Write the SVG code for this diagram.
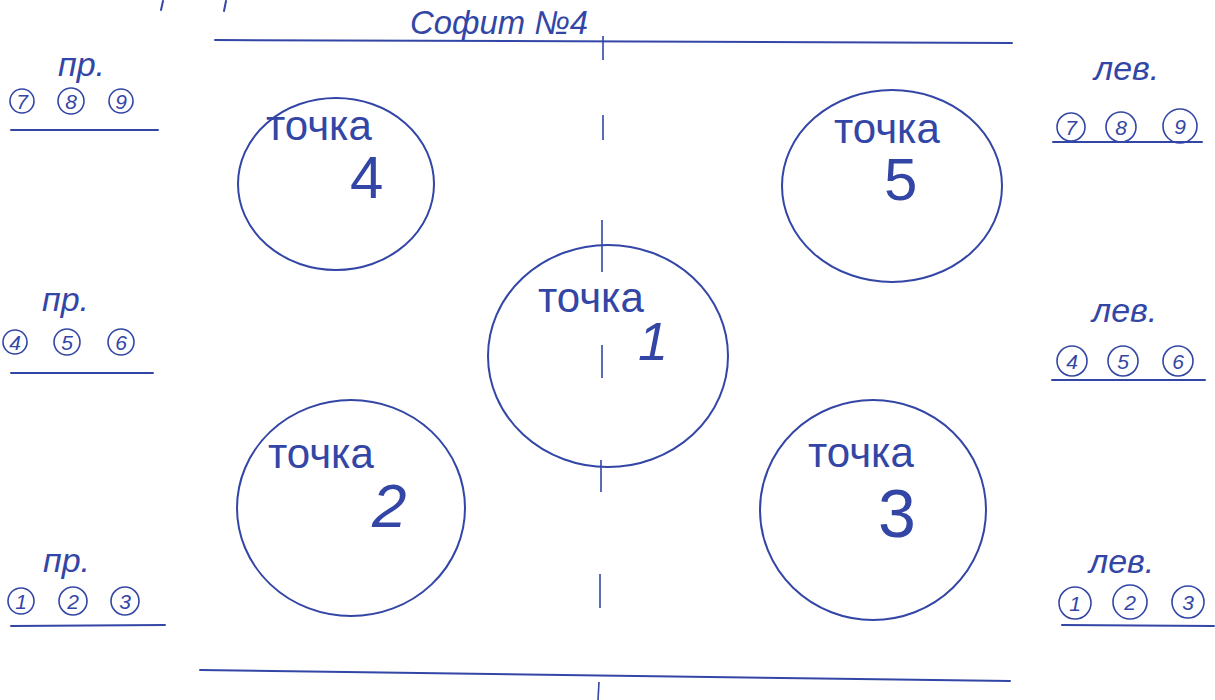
<svg xmlns="http://www.w3.org/2000/svg" width="1215" height="700" viewBox="0 0 1215 700">
<style>
.pen{fill:none;stroke:#3346a6;stroke-width:2;stroke-linecap:round}
.thin{fill:none;stroke:#3346a6;stroke-width:1.6}
.t{font-family:"Liberation Sans",Arial,sans-serif;fill:#3346a6}
.w{font-size:42px}
.n{font-size:60px}
.lab{font-size:34px;font-style:italic}
.c{font-size:21px;font-style:italic;text-anchor:middle}
.title{font-family:"Liberation Sans",Arial,sans-serif;font-style:italic;font-size:33px;fill:#3346a6}
</style>
<rect width="1215" height="700" fill="#ffffff"/>

<g id="connectors">
  <path class="pen" d="M163,1 L161,10"/>
  <path class="pen" d="M226,1 L224,11"/>
  <path class="pen" d="M215,40 L1012,43"/>
  <path class="pen" d="M200,670 L1010,681"/>
  <g id="centerline">
    <path class="thin" d="M603,36 L603,60"/>
    <path class="thin" d="M603,115 L603,140"/>
    <path class="thin" d="M602,220 L602,272"/>
    <path class="thin" d="M602,345 L602,378"/>
    <path class="thin" d="M601,460 L601,492"/>
    <path class="thin" d="M600,574 L600,608"/>
    <path class="thin" d="M599,682 L598,700"/>
  </g>
</g>

<g id="title">
  <text class="title" x="410" y="34" textLength="178" lengthAdjust="spacingAndGlyphs">Софит №4</text>
</g>

<g id="tochka4">
  <ellipse class="pen" cx="336" cy="184" rx="98" ry="86"/>
  <text class="t w" x="266" y="140">точка</text>
  <text class="t n" x="350" y="198">4</text>
</g>
<g id="tochka5">
  <ellipse class="pen" cx="892" cy="186" rx="110" ry="96"/>
  <text class="t w" x="834" y="143">точка</text>
  <text class="t n" x="884" y="200">5</text>
</g>
<g id="tochka1">
  <ellipse class="pen" cx="608" cy="356" rx="120" ry="111"/>
  <text class="t w" x="538" y="312">точка</text>
  <text class="t n" x="638" y="360" style="font-size:54px;font-style:italic">1</text>
</g>
<g id="tochka2">
  <ellipse class="pen" cx="351" cy="508" rx="114" ry="108"/>
  <text class="t w" x="268" y="468">точка</text>
  <text class="t n" x="372" y="527" style="font-size:62px;font-style:italic">2</text>
</g>
<g id="tochka3">
  <ellipse class="pen" cx="873" cy="510" rx="113" ry="110"/>
  <text class="t w" x="808" y="467">точка</text>
  <text class="t n" x="878" y="537" style="font-size:68px">3</text>
</g>

<g id="left-top">
  <text class="t lab" x="58" y="76">пр.</text>
  <circle class="thin" cx="22" cy="101" r="12"/><text class="t c" x="22" y="109">7</text>
  <circle class="thin" cx="71" cy="101" r="13"/><text class="t c" x="71" y="109">8</text>
  <circle class="thin" cx="121" cy="101" r="12"/><text class="t c" x="121" y="109">9</text>
  <path class="pen" d="M11,130 L158,130"/>
</g>
<g id="left-mid">
  <text class="t lab" x="42" y="311">пр.</text>
  <circle class="thin" cx="15" cy="342" r="12"/><text class="t c" x="15" y="350">4</text>
  <circle class="thin" cx="67" cy="342" r="13"/><text class="t c" x="67" y="350">5</text>
  <circle class="thin" cx="121" cy="342" r="13"/><text class="t c" x="121" y="350">6</text>
  <path class="pen" d="M11,373 L153,373"/>
</g>
<g id="left-bot">
  <text class="t lab" x="43" y="572">пр.</text>
  <circle class="thin" cx="21" cy="601" r="13"/><text class="t c" x="21" y="609">1</text>
  <circle class="thin" cx="73" cy="601" r="14"/><text class="t c" x="73" y="609">2</text>
  <circle class="thin" cx="125" cy="601" r="14"/><text class="t c" x="125" y="609">3</text>
  <path class="pen" d="M11,626 L165,625"/>
</g>

<g id="right-top">
  <text class="t lab" x="1094" y="80">лев.</text>
  <circle class="thin" cx="1071" cy="127" r="14"/><text class="t c" x="1071" y="135">7</text>
  <circle class="thin" cx="1121" cy="127" r="15"/><text class="t c" x="1121" y="135">8</text>
  <circle class="thin" cx="1180" cy="126" r="17"/><text class="t c" x="1180" y="134">9</text>
  <path class="pen" d="M1053,142 L1202,142"/>
</g>
<g id="right-mid">
  <text class="t lab" x="1092" y="322">лев.</text>
  <circle class="thin" cx="1072" cy="361" r="15"/><text class="t c" x="1072" y="369">4</text>
  <circle class="thin" cx="1123" cy="361" r="15"/><text class="t c" x="1123" y="369">5</text>
  <circle class="thin" cx="1178" cy="361" r="15"/><text class="t c" x="1178" y="369">6</text>
  <path class="pen" d="M1052,380 L1205,380"/>
</g>
<g id="right-bot">
  <text class="t lab" x="1089" y="573">лев.</text>
  <circle class="thin" cx="1075" cy="603" r="16"/><text class="t c" x="1075" y="611">1</text>
  <circle class="thin" cx="1130" cy="602" r="17"/><text class="t c" x="1130" y="610">2</text>
  <circle class="thin" cx="1188" cy="602" r="16"/><text class="t c" x="1188" y="610">3</text>
  <path class="pen" d="M1062,625 L1214,626"/>
</g>
</svg>
